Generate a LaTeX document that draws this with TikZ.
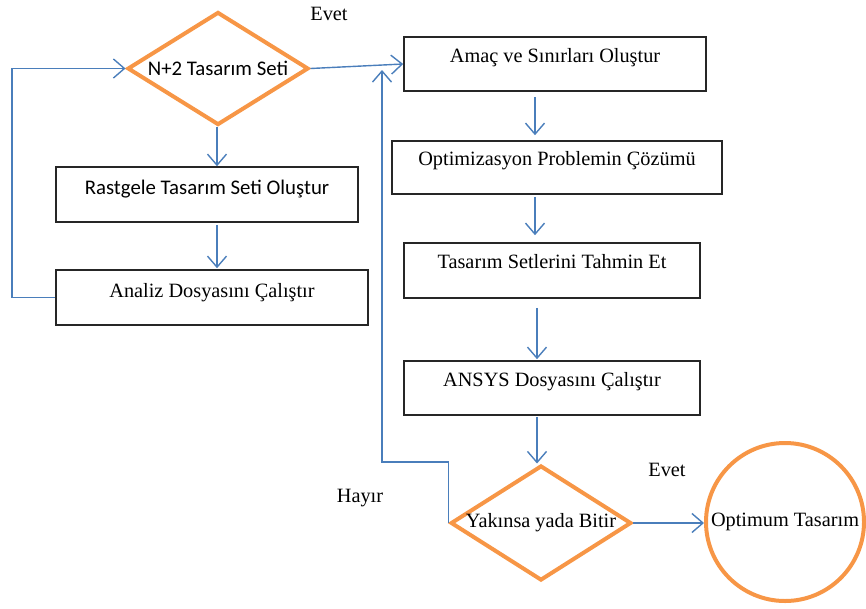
\documentclass[tikz,border=0pt]{standalone}
\usepackage{fontspec}
\setmainfont{Liberation Serif}
\newfontfamily\calfont{Carlito}
\usetikzlibrary{arrows.meta,shapes.geometric,calc}
\definecolor{orng}{HTML}{F79646}
\definecolor{blu}{HTML}{4A7EBB}
\begin{document}
\begin{tikzpicture}[x=1pt,y=-1pt,
  serif/.style={font=\fontsize{20.3}{24}\selectfont},
  sans/.style={font=\calfont\fontsize{20.8}{24}\selectfont},
  box/.style={draw=black!85, line width=1.6pt, rectangle, inner sep=0pt,
    text height=14pt, text depth=18pt},
  dia/.style={diamond, draw=orng, line width=4pt, aspect=1.65, inner sep=0pt,
    miter limit=10},
  arr/.style={draw=blu, line width=1.4pt, -{Straight Barb[length=11pt,width=19pt]}},
  plain/.style={draw=blu, line width=1.4pt},
  lbl/.style={serif, anchor=base, inner sep=0pt}]
\useasboundingbox (0,0) rectangle (866,608);

% left column
\node[dia, sans, minimum width=181pt, minimum height=113pt, text height=14pt, text depth=0pt] (d1) at (218,68.5) {N+2 Tasarım Seti};
\node[box, sans, minimum width=302pt, minimum height=55pt, text depth=14pt] (rast) at (207,194.5) {Rastgele Tasarım Seti Oluştur};
\node[box, serif, minimum width=312pt, minimum height=55pt, text depth=14pt] (anl) at (212,297.5) {Analiz Dosyasını Çalıştır};

% right column
\node[box, serif, minimum width=302pt, minimum height=54pt] (amac) at (555,64) {Amaç ve Sınırları Oluştur};
\node[box, serif, minimum width=330pt, minimum height=53pt] (opt) at (557,167.5) {Optimizasyon Problemin Çözümü};
\node[box, serif, minimum width=296pt, minimum height=55pt] (tah) at (552,270.5) {Tasarım Setlerini Tahmin Et};
\node[box, serif, minimum width=296pt, minimum height=54pt] (ans) at (552,388) {ANSYS Dosyasını Çalıştır};
\node[dia, serif, minimum width=180pt, minimum height=115pt] (d2) at (541,523) {Yakınsa yada Bitir};
\node[circle, draw=orng, line width=4pt, inner sep=0pt, minimum size=158pt, serif] (opm) at (785,522) {Optimum Tasarım};

% labels
\node[lbl] (ev1) at (329,20) {Evet};
\node[lbl] (ev2) at (667,476) {Evet};
\node[lbl] (hay) at (360,502) {Hayır};

% helper coordinates
\coordinate (xa) at (217,0);
\coordinate (lft) at (12,0);
\coordinate (xb) at (535,0);
\coordinate (xc) at (537,0);
\coordinate (hk) at (0,462);
\coordinate (hup) at (382,70);

% connectors
\draw[arr] (d1.south -| xa) -- (rast.north -| xa);
\draw[arr, shorten <=2pt, shorten >=1pt] (rast.south -| xa) -- (anl.north -| xa);
\draw[arr] (anl.west) -- (anl.west -| lft) |- (d1.west);
\draw[arr] (d1.east) -- (amac.west);
\draw[arr, shorten <=5pt, shorten >=5pt] (amac.south -| xb) -- (opt.north -| xb);
\draw[arr, shorten <=2pt, shorten >=7pt] (opt.south -| xb) -- (tah.north -| xb);
\draw[arr, shorten <=9pt, shorten >=1pt] (tah.south -| xc) -- (ans.north -| xc);
\draw[arr, shorten <=1pt] (ans.south -| xc) -- (d2.north -| xc);
\draw[arr] (d2.west) -- (d2.west |- hk) -| (hup);
\draw[arr] (d2.east) -- (d2.east -| opm.west);
\end{tikzpicture}
\end{document}
